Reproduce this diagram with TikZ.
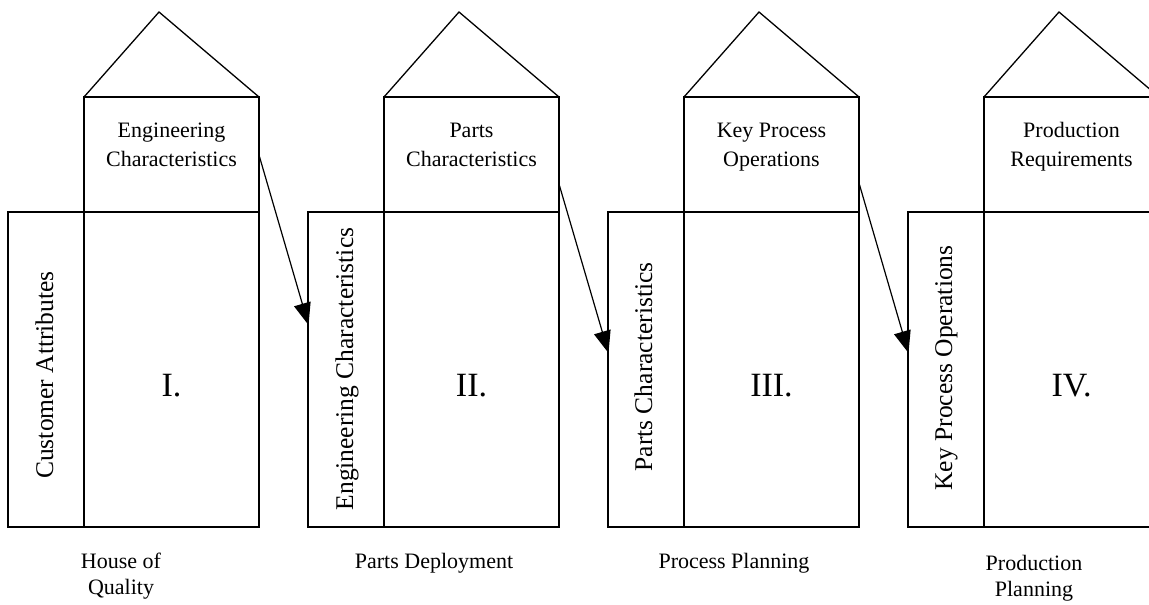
\documentclass[tikz,border=0pt]{standalone}
\usepackage{fontspec}
\setmainfont{Liberation Serif}
\usetikzlibrary{arrows.meta}
\begin{document}
\begin{tikzpicture}[x=1pt,y=-1pt,
  frame/.style={draw, line width=1.4pt, inner sep=0pt, outer sep=0pt},
  roof/.style={draw, line width=1.3pt, line join=miter},
  toplbl/.style={font=\fontsize{22}{29}\selectfont, align=center, inner sep=0pt, anchor=base},
  botlbl/.style={font=\fontsize{22}{26}\selectfont, align=center, inner sep=0pt, anchor=base},
  sidelbl/.style={font=\fontsize{25.5}{30}\selectfont, rotate=90, anchor=base, inner sep=0pt},
  numlbl/.style={font=\fontsize{34}{40}\selectfont, anchor=base, inner sep=0pt},
  flow/.style={-{Triangle[length=22pt,width=17pt]}, line width=1.2pt}]
\useasboundingbox (0,0) rectangle (1149,605);
\clip (0,0) rectangle (1149,605);

% four houses: side column, main matrix, upper box and roof
\foreach \k/\r in {0/I,1/II,2/III,3/IV}{
  \node[frame, minimum width=76pt, minimum height=315pt, anchor=north west]
    (side\r) at (8+300*\k,212) {};
  \node[frame, minimum width=175pt, minimum height=315pt, anchor=north west]
    (main\r) at (84+300*\k,212) {};
  \node[frame, minimum width=175pt, minimum height=115pt, anchor=north west]
    (up\r) at (84+300*\k,97) {};
  \draw[roof] (up\r.north west) -- ++(75,-85) -- (up\r.north east);
  \node[numlbl] (num\r) at (171.5+300*\k,396) {\r.};
}

% headings of the upper boxes (base anchor sits on the last line)
\node[toplbl] (hI)   at (171.5,166)  {Engineering\\Characteristics};
\node[toplbl] (hII)  at (471.5,166)  {Parts\\Characteristics};
\node[toplbl] (hIII) at (771.5,166)  {Key Process\\Operations};
\node[toplbl] (hIV)  at (1071.5,166) {Production\\Requirements};

% rotated labels of the side columns
\node[sidelbl] (sI)   at (53,375)  {Customer Attributes};
\node[sidelbl] (sII)  at (353,369) {Engineering Characteristics};
\node[sidelbl] (sIII) at (652,367) {Parts Characteristics};
\node[sidelbl] (sIV)  at (952,368) {Key Process Operations};

% phase names below the houses
\node[botlbl] (pI)   at (121,594)  {House of\\Quality};
\node[botlbl] (pII)  at (434,568)  {Parts Deployment};
\node[botlbl] (pIII) at (734,568)  {Process Planning};
\node[botlbl] (pIV)  at (1034,596) {Production\\Planning};

% cascade arrows from one house to the next
\coordinate (a1s) at (259,155);
\coordinate (a1e) at (308.5,325);
\coordinate (a2s) at (559,184);
\coordinate (a2e) at (608.5,353);
\coordinate (a3s) at (859,183);
\coordinate (a3e) at (908.5,353);
\draw[flow] (a1s) -- (a1e);
\draw[flow] (a2s) -- (a2e);
\draw[flow] (a3s) -- (a3e);
\end{tikzpicture}
\end{document}
